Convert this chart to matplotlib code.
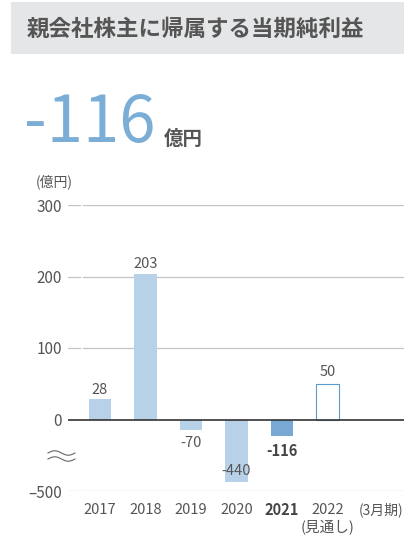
import numpy as np
import matplotlib
matplotlib.use("Agg")
import matplotlib.pyplot as plt
from matplotlib.patches import Rectangle

plt.rcParams['font.family'] = ['Noto Sans CJK JP', 'DejaVu Sans']

years = ['2017', '2018', '2019', '2020', '2021', '2022']
profit = [28, 203, -70, -440, -116, 50]
yticks = [300, 200, 100, 0, -500]
ytick_labels = ['300', '200', '100', '0', '\u2013500']

title = '親会社株主に帰属する当期純利益'
headline = '-116'
unit = '億円'

LIGHT = '#b7d1e8'
DARK = '#77a9d4'
GRAY = '#555555'

W, H = 404, 540
fig = plt.figure(figsize=(W / 100, H / 100), dpi=100)

# background layer in pixel coordinates for the header and the axis break mark
bg = fig.add_axes([0, 0, 1, 1], zorder=0)
bg.set_xlim(0, W)
bg.set_ylim(H, 0)
bg.axis('off')
bg.add_patch(Rectangle((11, 2), W - 11, 52, color='#e5e6e8', lw=0))
bg.text(27, 29, title, fontsize=16.2, fontweight='bold', color=GRAY, va='center', ha='left')
bg.text(24, 124, headline, fontsize=47, color='#7aaed6', va='center', ha='left')
bg.text(164, 139, unit, fontsize=14, fontweight='bold', color=GRAY, va='center', ha='left')
bg.text(54, 182, '(億円)', fontsize=10, color=GRAY, va='center', ha='center')
bg.text(403, 510, '(3月期)', fontsize=10, color=GRAY, va='center', ha='right')

# wavy break on the y axis
wx = np.linspace(48, 75, 60)
for y0 in (453, 459):
    bg.plot(wx, y0 - 2.2 * np.sin((wx - 48) / 27 * 2 * np.pi), color='#666666', lw=0.8)

# negative side of the scale is squeezed 5x
def fwd(v):
    v = np.asarray(v, dtype=float)
    return np.where(v >= 0, v, v / 5)

def inv(u):
    u = np.asarray(u, dtype=float)
    return np.where(u >= 0, u, u * 5)

left_px, right_px = 68, 404
top_px, bot_px = 205, 491
ax = fig.add_axes([left_px / W, 1 - bot_px / H, (right_px - left_px) / W, (bot_px - top_px) / H], zorder=1)
ax.patch.set_alpha(0)
ax.set_yscale('function', functions=(fwd, inv))
ax.set_ylim(-500, 300)
step = 45.5
xmin = -(100 - left_px) / step
ax.set_xlim(xmin, xmin + (right_px - left_px) / step)
for s in ax.spines.values():
    s.set_visible(False)

gx0 = (83 - left_px) / (right_px - left_px)
gx1 = (80 - left_px) / (right_px - left_px)
for t in yticks:
    if t == 0:
        continue
    ax.axhline(t, xmin=gx0, xmax=1, color='#c4c4c4', lw=0.9, zorder=1)
    ax.axhline(t, xmin=0, xmax=gx1, color='#c4c4c4', lw=0.9, zorder=1)
ax.axhline(0, color='#333333', lw=1.2, zorder=3)

x = np.arange(len(years))
colors = [LIGHT, LIGHT, LIGHT, LIGHT, DARK, 'white']
edges = ['none'] * 5 + ['#5b9bd0']
ax.bar(x, profit, width=0.5, color=colors, edgecolor=edges, linewidth=0.8, zorder=2)

offsets = [9, 10, -13, 11, -15, 11.5]
for i, v in enumerate(profit):
    bold = years[i] == '2021'
    ax.annotate(str(v), (x[i], v), xytext=(0, offsets[i] * 0.72), textcoords='offset points',
                ha='center', va='center', fontsize=10.5,
                fontweight='bold' if bold else 'normal',
                color='#444444' if bold else GRAY, zorder=4)

ax.set_yticks(yticks)
ax.set_yticklabels(ytick_labels)
ax.tick_params(axis='y', length=0, pad=4.5, labelsize=11, labelcolor=GRAY)
ax.set_xticks([])
ax.minorticks_off()

# year labels under the axis, the forecast year gets a second line
for i, yr in enumerate(years):
    bold = yr == '2021'
    ax.annotate(yr, (x[i], -500), xytext=(0, -19 * 0.72), textcoords='offset points',
                ha='center', va='center', fontsize=10.5,
                fontweight='bold' if bold else 'normal',
                color='#444444' if bold else GRAY)
    if yr == '2022':
        ax.annotate('(見通し)', (x[i], -500), xytext=(0, -37 * 0.72), textcoords='offset points',
                    ha='center', va='center', fontsize=10.5, color=GRAY)

fig.savefig('out.png', dpi=100)
